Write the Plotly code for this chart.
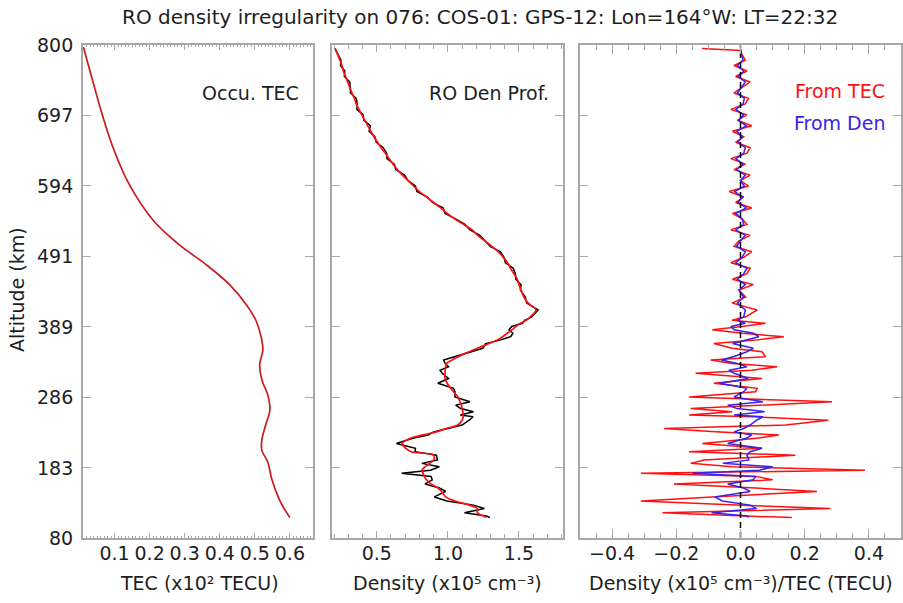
import plotly.graph_objects as go

W, H = 903, 603

title_text = "RO density irregularity on 076: COS-01: GPS-12: Lon=164°W: LT=22:32"

# altitude ticks
alt_ticks = [80, 182.857, 285.714, 388.571, 491.429, 594.286, 697.143, 800]
alt_tick_labels = ["80", "183", "286", "389", "491", "594", "697", "800"]

# ---------------- Occultation TEC profile (x10^2 TECU) ----------------
tec_alt = [110, 121, 135, 165, 191, 208, 223, 245, 267, 289, 311, 333, 355, 376,
           398, 420, 450, 479, 508, 544, 600, 654, 705, 749, 797]
tec_val = [0.600, 0.586, 0.571, 0.549, 0.537, 0.520, 0.520, 0.531, 0.543, 0.537,
           0.520, 0.514, 0.523, 0.517, 0.503, 0.477, 0.428, 0.362, 0.285, 0.210,
           0.138, 0.093, 0.061, 0.037, 0.011]

# ---------------- grid for density profile & perturbations ----------------
pert_alt = [110, 112, 117, 123, 128, 134, 140, 148, 153, 159,
            165, 170, 174.5, 179, 184, 189, 194, 201, 206, 211,
            218, 226, 230.5, 235, 240, 245, 252, 257, 259.6, 264.5,
            269, 274, 279, 286, 293.7, 298.6, 306, 313, 320.5, 325,
            330, 335, 340, 345, 352, 357, 364, 369, 374, 379,
            384, 389, 393.5, 398, 403, 413, 423, 432, 442,
            450, 458, 466, 474, 482, 490, 498, 506, 514, 522,
            530, 538, 546, 554, 562, 570, 578, 586, 594, 602,
            610, 618, 626, 634, 642, 650, 658, 666, 674, 682,
            690, 698, 706, 714, 722, 730, 738, 746, 754, 762,
            770, 778, 786, 792, 795]

# smoothed RO density (x10^5 cm^-3)
dens_smooth = [1.27, 1.25, 1.207, 1.207, 1.15, 1.05, 0.985, 0.955, 0.93, 0.88,
               0.85, 0.835, 0.825, 0.818, 0.84, 0.872, 0.90, 0.90, 0.74, 0.705,
               0.678, 0.74, 0.826, 0.92, 0.99, 1.07, 1.10, 1.108, 1.108, 1.105,
               1.10, 1.095, 1.085, 1.07, 1.04, 1.02, 0.995, 0.98, 0.981, 0.981,
               0.985, 0.99, 1.03, 1.075, 1.15, 1.206, 1.29, 1.347, 1.385, 1.418,
               1.45, 1.48, 1.51, 1.55, 1.58, 1.62, 1.565, 1.535, 1.515,
               1.50, 1.488, 1.465, 1.44, 1.42, 1.39, 1.355, 1.31, 1.26, 1.21,
               1.171, 1.11, 1.05, 0.995, 0.95, 0.90, 0.85, 0.80, 0.76, 0.72,
               0.68, 0.645, 0.615, 0.587, 0.56, 0.53, 0.505, 0.48, 0.458, 0.437,
               0.415, 0.395, 0.375, 0.355, 0.343, 0.325, 0.31, 0.295, 0.28, 0.265,
               0.255, 0.24, 0.225, 0.212, 0.206]

# density perturbation (From Den)
dens_pert = [0.026, 0.02, -0.09, 0.05, 0.03, -0.057, -0.08, 0.03, 0.01, -0.04,
             0.04, 0.047, -0.15, 0.06, 0.10, -0.055, 0.026, 0.02, 0.03, 0.067,
             -0.04, 0.02, 0.035, -0.02, 0.01, 0.03, 0.05, 0.07, -0.02, 0.075,
             -0.01, -0.04, 0.07, -0.02, 0.01, 0.02, -0.065, 0.025, -0.02, -0.036,
             0.02, -0.01, -0.06, -0.02, 0.02, 0.04, -0.025, 0.02, 0.057, 0.04,
             -0.02, -0.03, 0.015, -0.01, 0.01, 0.015, -0.01, 0.01, -0.005,
             0.015, -0.01, 0.01, 0.02, -0.015, 0.005, 0.015, -0.012, 0.0, 0.015,
             -0.015, 0.01, 0.005, -0.015, 0.018, -0.008, 0.006, -0.018, 0.012, 0.0,
             0.015, -0.012, 0.008, -0.015, 0.01, 0.015, -0.008, 0.006, -0.012, 0.018,
             -0.006, 0.01, -0.015, 0.008, 0.012, -0.01, 0.003, 0.015, -0.008, 0.01,
             -0.01, 0.008, 0.003, 0.0, 0.0]

# TEC perturbation (From TEC)
tec_pert = [0.16, 0.015, -0.243, 0.28, 0.005, -0.31, -0.088, 0.238, 0.047, -0.207,
            0.10, 0.047, -0.31, 0.388, -0.026, -0.155, -0.114, 0.171, -0.16, 0.067,
            -0.119, 0.057, 0.119, -0.078, -0.238, 0.14, 0.274, 0.036, -0.16, -0.026,
            -0.155, 0.057, 0.285, -0.16, 0.047, 0.052, -0.083, 0.067, -0.14, 0.036,
            0.114, -0.026, -0.093, 0.078, 0.067, -0.026, -0.083, 0.047, 0.135, 0.005,
            -0.088, 0.005, 0.078, -0.026, 0.016, 0.052, -0.026, 0.016, -0.005,
            0.04, -0.025, 0.02, 0.03, -0.03, 0.01, 0.035, -0.02, -0.005, 0.03,
            -0.03, 0.02, 0.005, -0.025, 0.035, -0.015, 0.01, -0.035, 0.025, 0.0,
            0.03, -0.02, 0.015, -0.03, 0.02, 0.03, -0.015, 0.01, -0.025, 0.035,
            -0.01, 0.02, -0.03, 0.015, 0.025, -0.02, 0.005, 0.03, -0.015, 0.02,
            -0.02, 0.015, 0.005, 0.0, -0.12]

# observed (raw) density = smooth + perturbation
dens_obs = [s + p for s, p in zip(dens_smooth, dens_pert)]

RED = "#ff1010"
BLUE = "#3a22e8"
TXT = "#1e1e1e"
AX = "#a8a8a8"
FONT = "DejaVu Sans"
FS = 19

fig = go.Figure()

# left panel
fig.add_trace(go.Scatter(x=tec_val, y=tec_alt, mode="lines", line=dict(color="#c81c1c", width=1.7, shape="spline"),
                         xaxis="x", yaxis="y"))
# middle panel
fig.add_trace(go.Scatter(x=dens_obs, y=pert_alt, mode="lines", line=dict(color="black", width=1.5),
                         xaxis="x2", yaxis="y2"))
fig.add_trace(go.Scatter(x=dens_smooth, y=pert_alt, mode="lines", line=dict(color=RED, width=1.7, shape="spline"),
                         xaxis="x2", yaxis="y2"))
# right panel
fig.add_trace(go.Scatter(x=tec_pert, y=pert_alt, mode="lines", line=dict(color=RED, width=1.5),
                         xaxis="x3", yaxis="y3"))
fig.add_trace(go.Scatter(x=dens_pert, y=pert_alt, mode="lines", line=dict(color=BLUE, width=1.5),
                         xaxis="x3", yaxis="y3"))
fig.add_trace(go.Scatter(x=[0, 0], y=[80, 800], mode="lines", line=dict(color="black", width=1.5, dash="6px,4px"),
                         xaxis="x3", yaxis="y3"))

TOP, BOT = 45, 538
y0 = 1 - BOT / H
y1 = 1 - TOP / H


def xax(dom, rng, dtick, tick0, mdtick, tlen, mlen, fmt=None):
    d = dict(domain=dom, range=rng, dtick=dtick, tick0=tick0, ticks="inside", ticklen=tlen,
             tickcolor=AX, tickwidth=1, showline=True, linecolor=AX, linewidth=1.5, mirror="allticks",
             showgrid=False, zeroline=False, tickangle=0, ticklabelstandoff=-3, automargin=False,
             tickfont=dict(family=FONT, size=FS, color=TXT),
             minor=dict(dtick=mdtick, tick0=tick0, ticks="inside", ticklen=mlen, tickcolor=AX, tickwidth=1, showgrid=False))
    if fmt:
        d["tickformat"] = fmt
    return d


def yax(anchor):
    return dict(domain=[y0, y1], range=[80, 800], anchor=anchor, tickmode="array", tickvals=alt_ticks,
                ticktext=alt_tick_labels, showticklabels=False, ticks="inside", ticklen=8, tickcolor=AX,
                tickwidth=1, showline=True, linecolor=AX, linewidth=1.5, mirror="allticks", showgrid=False,
                zeroline=False, automargin=False)


fig.update_layout(
    width=W, height=H, margin=dict(l=0, r=0, t=0, b=0, autoexpand=False),
    paper_bgcolor="white", plot_bgcolor="white", showlegend=False,
    xaxis=xax([83 / W, 313 / W], [0.01, 0.666], 0.1, 0.1, 0.01, 5, 2.5),
    xaxis2=xax([332 / W, 563 / W], [0.185, 1.81], 0.5, 0, 0.1, 7, 4, ".1f"),
    xaxis3=xax([580 / W, 901 / W], [-0.5, 0.5], 0.2, 0, 0.05, 9, 5, ".1f"),
    yaxis=yax("x"),
    yaxis2=yax("x2"),
    yaxis3=yax("x3"),
)
fig.layout.xaxis.anchor = "y"
fig.layout.xaxis2.anchor = "y2"
fig.layout.xaxis3.anchor = "y3"

# altitude tick labels, placed through the y axis scale
for v, lab in zip(alt_ticks, alt_tick_labels):
    fig.add_annotation(text=lab, x=75 / W, xref="paper", y=v, yref="y", xanchor="right", yanchor="middle",
                       showarrow=False, font=dict(family=FONT, size=FS, color=TXT))


def ann(text, x, y, xanchor="center", color=TXT, angle=0, size=FS):
    fig.add_annotation(text=text, x=x / W, y=1 - y / H, xref="paper", yref="paper", xanchor=xanchor,
                       yanchor="middle", showarrow=False, textangle=angle,
                       font=dict(family=FONT, size=size, color=color))


ann(title_text, 480, 17, size=20)
ann("Occu. TEC", 301, 93, "right")
ann("RO Den Prof.", 551, 93, "right")
ann("From TEC", 887, 91, "right", RED)
ann("From Den", 887, 123, "right", BLUE)
ann("TEC (x10² TECU)", 199, 583)
ann("Density (x10⁵ cm⁻³)", 447, 583)
ann("Density (x10⁵ cm⁻³)/TEC (TECU)", 741, 583)
ann("Altitude (km)", 17, 290, angle=-90)

fig.write_html("out.html")
